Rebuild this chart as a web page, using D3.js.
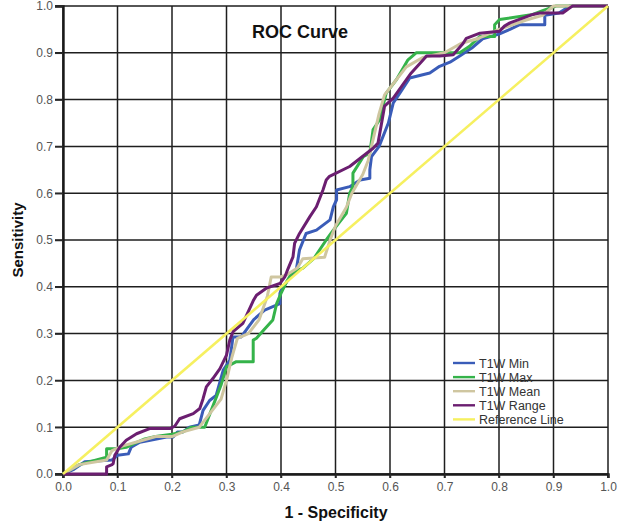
<!DOCTYPE html>
<html>
<head>
<meta charset="utf-8">
<script src="https://cdn.jsdelivr.net/npm/d3@7"></script>
<style>
  body { margin: 0; background: #fff; }
  svg { display: block; font-family: "Liberation Sans", Arial, sans-serif; }
</style>
</head>
<body>
<div id="chart"></div>
<script>
// ROC curve points as [1 - specificity, sensitivity]
const minCurve = [
  [0, 0], [0.02, 0.01], [0.04, 0.026], [0.09, 0.03], [0.1, 0.04], [0.12, 0.043],
  [0.125, 0.057], [0.141, 0.068], [0.16, 0.072], [0.19, 0.079], [0.202, 0.079],
  [0.21, 0.09], [0.22, 0.09], [0.232, 0.1], [0.25, 0.105], [0.257, 0.136],
  [0.269, 0.157], [0.281, 0.168], [0.294, 0.222], [0.306, 0.243], [0.312, 0.293],
  [0.327, 0.293], [0.35, 0.33], [0.37, 0.35], [0.398, 0.364], [0.398, 0.386],
  [0.4, 0.393], [0.41, 0.41], [0.428, 0.436], [0.434, 0.479], [0.446, 0.514],
  [0.465, 0.521], [0.49, 0.543], [0.496, 0.571], [0.502, 0.586], [0.502, 0.607],
  [0.526, 0.614], [0.545, 0.628], [0.563, 0.632], [0.563, 0.65], [0.566, 0.678],
  [0.58, 0.7], [0.597, 0.75], [0.6, 0.764], [0.606, 0.793], [0.618, 0.814],
  [0.636, 0.846], [0.673, 0.857], [0.691, 0.871], [0.71, 0.88], [0.728, 0.893],
  [0.75, 0.91], [0.77, 0.93], [0.8, 0.94], [0.82, 0.95], [0.838, 0.96],
  [0.884, 0.96], [0.884, 0.98], [0.91, 0.985], [0.93, 1], [1, 1]
];
const maxCurve = [
  [0, 0], [0.03, 0.02], [0.046, 0.025], [0.08, 0.036], [0.08, 0.054], [0.095, 0.054],
  [0.105, 0.055], [0.116, 0.057], [0.13, 0.065], [0.15, 0.075], [0.17, 0.08],
  [0.2, 0.085], [0.22, 0.09], [0.235, 0.1], [0.26, 0.1], [0.27, 0.13], [0.28, 0.16],
  [0.29, 0.19], [0.3, 0.229], [0.318, 0.24], [0.349, 0.24], [0.349, 0.286],
  [0.355, 0.29], [0.37, 0.31], [0.385, 0.329], [0.392, 0.364], [0.4, 0.386],
  [0.41, 0.41], [0.42, 0.43], [0.44, 0.44], [0.46, 0.46], [0.483, 0.5],
  [0.496, 0.521], [0.52, 0.557], [0.526, 0.6], [0.532, 0.614], [0.532, 0.643],
  [0.551, 0.678], [0.563, 0.686], [0.569, 0.736], [0.581, 0.757], [0.593, 0.814],
  [0.612, 0.843], [0.633, 0.885], [0.648, 0.9], [0.728, 0.9], [0.746, 0.914],
  [0.765, 0.935], [0.792, 0.935], [0.792, 0.96], [0.801, 0.971], [0.862, 0.982],
  [0.88, 0.99], [0.905, 1], [1, 1]
];
const meanCurve = [
  [0, 0], [0.03, 0.02], [0.08, 0.03], [0.09, 0.05], [0.11, 0.06], [0.14, 0.07],
  [0.17, 0.08], [0.2, 0.08], [0.22, 0.09], [0.25, 0.1], [0.27, 0.13], [0.29, 0.16],
  [0.3, 0.2], [0.31, 0.25], [0.32, 0.29], [0.34, 0.3], [0.36, 0.33], [0.375, 0.38],
  [0.382, 0.421], [0.398, 0.421], [0.41, 0.425], [0.43, 0.44], [0.44, 0.46],
  [0.48, 0.463], [0.49, 0.5], [0.5, 0.53], [0.52, 0.57], [0.53, 0.6], [0.55, 0.64],
  [0.56, 0.67], [0.57, 0.72], [0.58, 0.77], [0.59, 0.81], [0.61, 0.84], [0.63, 0.87],
  [0.66, 0.89], [0.7, 0.9], [0.73, 0.92], [0.76, 0.93], [0.8, 0.95], [0.85, 0.97],
  [0.88, 0.98], [0.9, 1], [1, 1]
];
const rangeCurve = [
  [0, 0], [0.08, 0], [0.08, 0.015], [0.09, 0.02], [0.092, 0.022], [0.095, 0.04],
  [0.104, 0.057], [0.116, 0.072], [0.135, 0.086], [0.159, 0.097], [0.196, 0.097],
  [0.205, 0.102], [0.214, 0.118], [0.239, 0.129], [0.251, 0.14], [0.257, 0.161],
  [0.263, 0.186], [0.275, 0.204], [0.288, 0.225], [0.3, 0.254], [0.306, 0.286],
  [0.312, 0.304], [0.33, 0.322], [0.349, 0.37], [0.355, 0.382], [0.373, 0.397],
  [0.398, 0.407], [0.407, 0.421], [0.413, 0.439], [0.422, 0.464], [0.425, 0.493],
  [0.434, 0.514], [0.453, 0.55], [0.465, 0.571], [0.477, 0.607], [0.483, 0.628],
  [0.489, 0.636], [0.526, 0.657], [0.569, 0.696], [0.578, 0.707], [0.584, 0.746],
  [0.59, 0.786], [0.606, 0.803], [0.621, 0.828], [0.639, 0.857], [0.661, 0.885],
  [0.667, 0.893], [0.691, 0.893], [0.716, 0.896], [0.734, 0.92], [0.74, 0.931],
  [0.765, 0.942], [0.801, 0.946], [0.81, 0.957], [0.82, 0.964], [0.862, 0.982],
  [0.875, 0.985], [0.917, 0.985], [0.93, 0.996], [0.935, 1], [1, 1]
];
const referenceLine = [[0, 0], [1, 1]];

const seriesNames = ["T1W Min", "T1W Max", "T1W Mean", "T1W Range", "Reference Line"];
const seriesColors = ["#3a5cb8", "#35b34a", "#cfc6a0", "#6b1e70", "#f6f060"];
const tickValues = d3.range(0, 11).map((i) => i / 10);

(function () {
  const margin = { top: 6, right: 11, bottom: 48, left: 63 };
  const width = 619 - margin.left - margin.right;
  const height = 522 - margin.top - margin.bottom;

  const root = d3
    .select("#chart")
    .append("svg")
    .attr("width", 619)
    .attr("height", 522);

  const svg = root
    .append("g")
    .attr("transform", `translate(${margin.left},${margin.top})`);

  const x = d3.scaleLinear().domain([0, 1]).range([0, width]);
  const y = d3.scaleLinear().domain([0, 1]).range([height, 0]);

  // grid
  svg
    .append("g")
    .selectAll("line")
    .data(tickValues)
    .enter()
    .append("line")
    .attr("x1", (d) => x(d))
    .attr("x2", (d) => x(d))
    .attr("y1", 0)
    .attr("y2", height + 4)
    .attr("stroke", "#1e1e1e")
    .attr("stroke-width", 1.5);

  svg
    .append("g")
    .selectAll("line")
    .data(tickValues)
    .enter()
    .append("line")
    .attr("x1", -8)
    .attr("x2", width)
    .attr("y1", (d) => y(d))
    .attr("y2", (d) => y(d))
    .attr("stroke", "#1e1e1e")
    .attr("stroke-width", 1.5);

  // axes
  const xAxis = svg
    .append("g")
    .attr("transform", `translate(0,${height})`)
    .call(d3.axisBottom(x).tickValues(tickValues).tickFormat(d3.format(".1f")).tickSize(4).tickPadding(4));
  const yAxis = svg
    .append("g")
    .call(d3.axisLeft(y).tickValues(tickValues).tickFormat(d3.format(".1f")).tickSize(8).tickPadding(2));

  [xAxis, yAxis].forEach((a) => {
    a.select(".domain").attr("stroke", "#1a1a1a").attr("stroke-width", 2.4);
    a.selectAll(".tick line").attr("stroke", "#2a2a2a").attr("stroke-width", 1.5);
    a.selectAll("text")
      .attr("fill", "#555")
      .style("font-size", "12px")
      .style("font-family", "'Liberation Sans', Arial, sans-serif");
  });

  // curves
  const line = d3
    .line()
    .x((d) => x(d[0]))
    .y((d) => y(d[1]));

  const curves = [minCurve, maxCurve, meanCurve, rangeCurve, referenceLine];
  curves.forEach((c, i) => {
    svg
      .append("path")
      .datum(c)
      .attr("fill", "none")
      .attr("stroke", seriesColors[i])
      .attr("stroke-width", i === 4 ? 2.6 : 3)
      .attr("stroke-linejoin", "round")
      .attr("d", line);
  });

  // title
  svg
    .append("text")
    .attr("x", 237)
    .attr("y", 32)
    .attr("text-anchor", "middle")
    .attr("font-weight", "bold")
    .attr("font-size", "18px")
    .attr("fill", "#111")
    .text("ROC Curve");

  // axis titles
  root
    .append("text")
    .attr("x", 336)
    .attr("y", 518)
    .attr("text-anchor", "middle")
    .attr("font-weight", "bold")
    .attr("font-size", "16px")
    .attr("fill", "#111")
    .text("1 - Specificity");

  root
    .append("text")
    .attr("transform", "translate(23,240) rotate(-90)")
    .attr("text-anchor", "middle")
    .attr("font-weight", "bold")
    .attr("font-size", "15px")
    .attr("fill", "#111")
    .text("Sensitivity");

  // legend
  const legend = root.append("g").attr("transform", "translate(453,363)");
  seriesNames.forEach((name, i) => {
    const row = legend.append("g").attr("transform", `translate(0, ${i * 14.1})`);
    row
      .append("line")
      .attr("x1", 0)
      .attr("x2", 22)
      .attr("stroke", seriesColors[i])
      .attr("stroke-width", 2.4);
    row
      .append("text")
      .attr("x", 26)
      .attr("y", 4.5)
      .attr("fill", "#333")
      .attr("font-size", "12.5px")
      .text(name);
  });
})();
</script>
</body>
</html>
